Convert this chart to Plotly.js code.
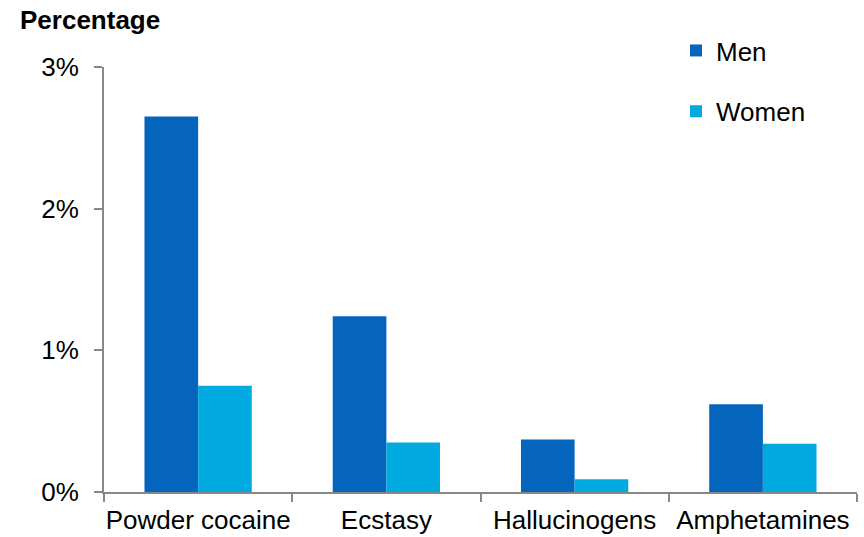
<!DOCTYPE html>
<html>
<head>
<meta charset="utf-8">
<script src="https://cdn.plot.ly/plotly-3.0.1.min.js"></script>
<style>html,body{margin:0;padding:0;background:#fff;}#chart{width:864px;height:537px;}</style>
</head>
<body>
<div id="chart"></div>
<script>
const categories = ["Powder cocaine", "Ecstasy", "Hallucinogens", "Amphetamines"];
const menValues = [2.65, 1.24, 0.37, 0.62];
const womenValues = [0.75, 0.35, 0.09, 0.34];
const yTickVals = [0, 1, 2, 3];
const yTickText = ["0%", "1%", "2%", "3%"];

const font = "Liberation Sans, Arial, sans-serif";
const traces = [
  {type: "bar", name: "Men", x: categories, y: menValues, marker: {color: "#0565BD"}, legendgroup: "a", hoverinfo: "none"},
  {type: "bar", name: "Women", x: categories, y: womenValues, marker: {color: "#00AAE0"}, legendgroup: "b", hoverinfo: "none"}
];
const layout = {
  width: 864, height: 537,
  margin: {l: 104, r: 7, t: 67, b: 45, pad: 0},
  paper_bgcolor: "#fff", plot_bgcolor: "#fff",
  font: {family: font, size: 26, color: "#000"},
  barmode: "group", bargap: 0.43, bargroupgap: 0,
  title: {text: "<b>Percentage</b>", font: {family: font, size: 26, color: "#000"},
    xref: "container", yref: "container", x: 20/864, xanchor: "left", y: 1 - 20/537, yanchor: "middle"},
  xaxis: {type: "category", showline: true, linecolor: "#888", linewidth: 2, ticks: "outside", tickson: "boundaries",
    ticklen: 8, tickcolor: "#888", tickwidth: 2, showgrid: false, zeroline: false, tickangle: 0,
    ticklabelstandoff: 4,
    tickfont: {family: font, size: 26, color: "#000"}},
  yaxis: {range: [0, 3], tickvals: yTickVals, ticktext: yTickText, showline: true, linecolor: "#888", linewidth: 2,
    ticks: "outside", ticklen: 8, tickcolor: "#888", tickwidth: 2, showgrid: false, zeroline: false,
    ticklabelstandoff: 10,
    tickfont: {family: font, size: 26, color: "#000"}},
  showlegend: true,
  legend: {x: 0.7596, y: 1.094, xanchor: "left", yanchor: "top", bgcolor: "rgba(0,0,0,0)",
    font: {family: font, size: 26, color: "#000"}, traceorder: "grouped", tracegroupgap: 24,
    itemwidth: 30}
};
Plotly.newPlot("chart", traces, layout, {staticPlot: true, displayModeBar: false});
</script>
</body>
</html>
